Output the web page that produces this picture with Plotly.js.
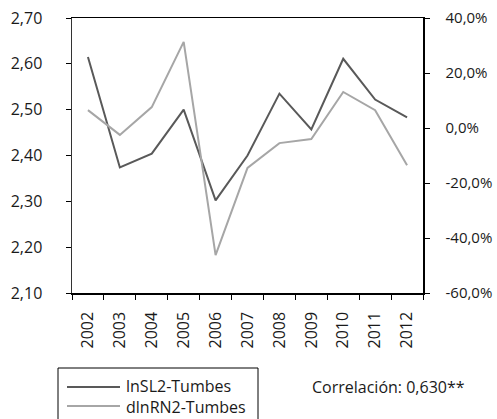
<!DOCTYPE html>
<html>
<head>
<meta charset="utf-8">
<script src="https://cdn.plot.ly/plotly-3.0.1.min.js"></script>
<style>html,body{margin:0;padding:0;background:#fff;}#chart{width:497px;height:419px;}</style>
</head>
<body>
<div id="chart"></div>
<script>
const years = ['2002','2003','2004','2005','2006','2007','2008','2009','2010','2011','2012'];
const lnSL2 = [2.615, 2.374, 2.404, 2.500, 2.302, 2.400, 2.535, 2.457, 2.611, 2.522, 2.483];
const dlnRN2 = [0.065, -0.025, 0.076, 0.313, -0.462, -0.145, -0.055, -0.040, 0.131, 0.065, -0.135];
const seriesNames = ['lnSL2-Tumbes', 'dlnRN2-Tumbes'];
const rightTickVals = [-0.6, -0.4, -0.2, 0, 0.2, 0.4];
const rightTickText = ['-60,0%', '-40,0%', '-20,0%', '0,0%', '20,0%', '40,0%'];
const noteText = 'Correlación: 0,630**';

const FONT = 'Open Sans, sans-serif';
const TXT = '#1a1a1a';
const COLORS = ['#595959', '#a6a6a6'];
const traces = [
  {x: years, y: dlnRN2, name: seriesNames[1], type: 'scatter', mode: 'lines', yaxis: 'y2',
   line: {color: COLORS[1], width: 2}, showlegend: false},
  {x: years, y: lnSL2, name: seriesNames[0], type: 'scatter', mode: 'lines', yaxis: 'y',
   line: {color: COLORS[0], width: 2}, showlegend: false}
];

// custom legend (box, line samples, labels) in paper coordinates
const px = v => (v - 72) / 351;
const py = v => (293 - v) / 275;
const shapes = [
  {type: 'rect', xref: 'paper', yref: 'paper', x0: px(58), x1: px(258), y0: py(368), y1: py(430),
   line: {color: '#000', width: 1}, fillcolor: 'rgba(0,0,0,0)'},
  {type: 'line', xref: 'paper', yref: 'paper', x0: px(67), x1: px(120), y0: py(387), y1: py(387),
   line: {color: COLORS[0], width: 2}},
  {type: 'line', xref: 'paper', yref: 'paper', x0: px(67), x1: px(120), y0: py(406), y1: py(406),
   line: {color: COLORS[1], width: 2}}
];
const annotations = [
  {xref: 'paper', yref: 'paper', x: px(124), y: py(396.5), xanchor: 'left', yanchor: 'middle', align: 'left',
   text: seriesNames[0] + '<br>' + seriesNames[1], showarrow: false,
   font: {family: FONT, size: 16, color: TXT}},
  {xref: 'paper', yref: 'paper', x: px(310), y: py(387), xanchor: 'left', yanchor: 'middle',
   text: noteText, showarrow: false, font: {family: FONT, size: 16, color: TXT}}
];

const layout = {
  width: 497, height: 419,
  margin: {l: 72, r: 74, t: 18, b: 126},
  paper_bgcolor: '#fff', plot_bgcolor: '#fff',
  separators: ', ',
  font: {family: FONT, size: 16, color: TXT},
  showlegend: false,
  xaxis: {type: 'category', range: [-0.5, 10.5], tickson: 'boundaries', ticks: 'outside', ticklen: 5,
          tickcolor: '#000', tickangle: -90, showline: true, linecolor: '#000', linewidth: 1.5, mirror: true,
          showgrid: false, zeroline: false, ticklabelstandoff: 11},
  yaxis: {range: [2.1, 2.7], dtick: 0.1, tick0: 2.1, tickformat: '.2f', ticks: 'outside', ticklen: 5,
          tickcolor: '#000', showline: true, linecolor: '#333', linewidth: 1.5, showgrid: false,
          zeroline: false, ticklabelstandoff: 20},
  yaxis2: {range: [-0.6, 0.4], tickmode: 'array', tickvals: rightTickVals, ticktext: rightTickText,
           overlaying: 'y', side: 'right', ticks: 'outside', ticklen: 5, tickcolor: '#000',
           showline: true, linecolor: '#000', linewidth: 1.5, showgrid: false, zeroline: false,
           ticklabelstandoff: 13, tickfont: {family: FONT, size: 15, color: TXT}},
  shapes: shapes,
  annotations: annotations
};
Plotly.newPlot('chart', traces, layout, {displayModeBar: false, staticPlot: true});
</script>
</body>
</html>
